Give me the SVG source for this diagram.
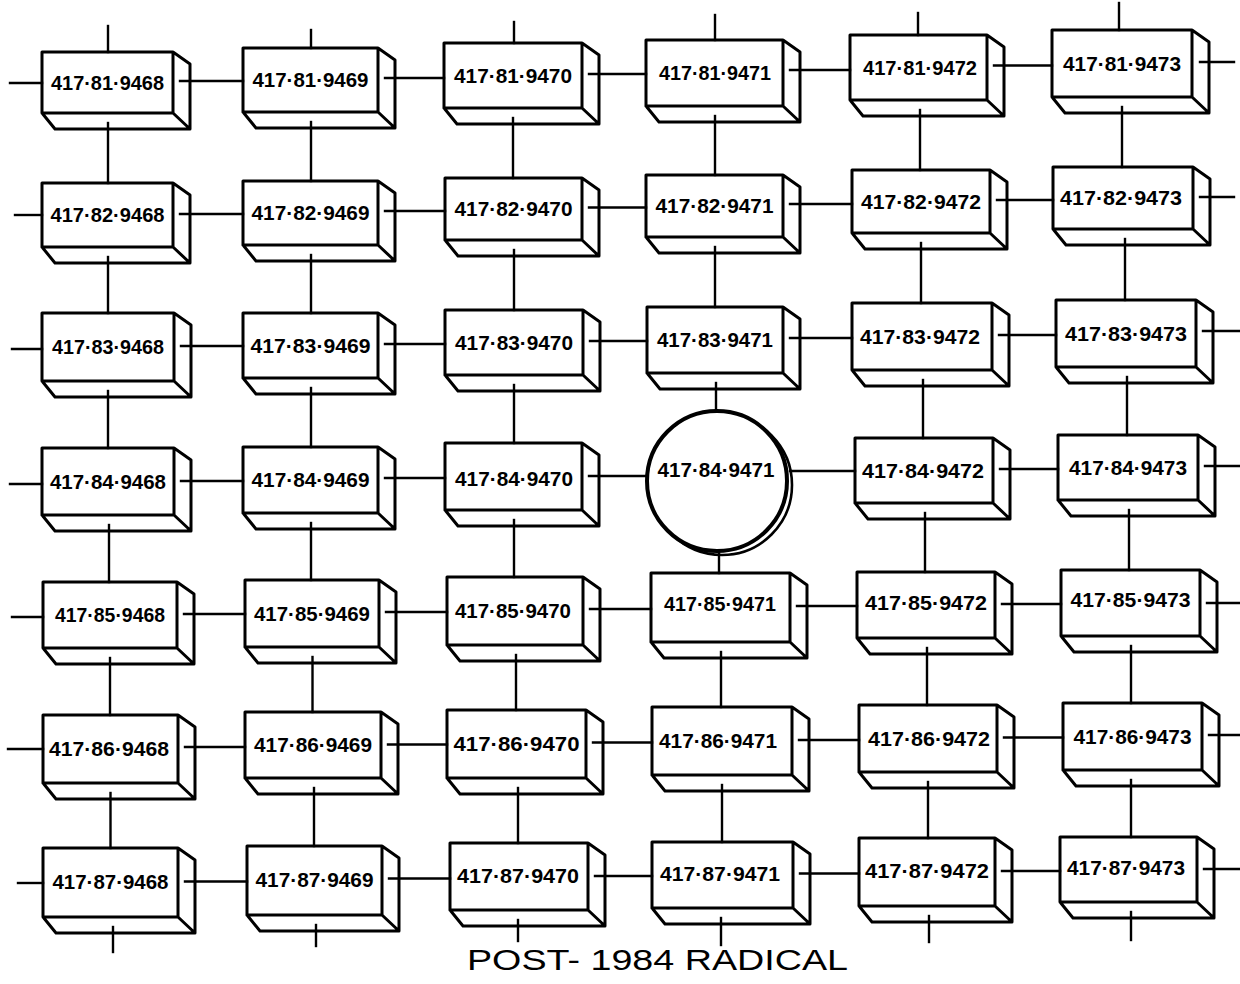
<svg xmlns="http://www.w3.org/2000/svg" width="1240" height="984" viewBox="0 0 1240 984">
<style>
.bx path{fill:none;stroke:#000;stroke-width:3;stroke-linejoin:round;stroke-linecap:round}
.bx text,.lbl{font-family:"Liberation Sans",Arial,sans-serif;font-size:20px;font-weight:bold;fill:#000;text-anchor:middle}
.cn line{stroke:#000;stroke-width:2.4;stroke-linecap:square}
.ttl{font-family:"Liberation Sans",Arial,sans-serif;font-size:30px;fill:#000}
</style>
<rect width="1240" height="984" fill="#fff"/>
<g id="nodes" class="bx">
<!-- Row 1 -->
<g id="n81-9468" transform="translate(42,52)"><path d="M0 0h131v61h-131Zm131 0l17 12v65l-17-16m-131 0l13 16h135"/><text x="65.5" y="37.5" textLength="113" lengthAdjust="spacingAndGlyphs">417·81·9468</text></g>
<g id="n81-9469" transform="translate(243,48)"><path d="M0 0h135v64h-135Zm135 0l17 12v68l-17-16m-135 0l13 16h139"/><text x="67.5" y="39" textLength="116" lengthAdjust="spacingAndGlyphs">417·81·9469</text></g>
<g id="n81-9470" transform="translate(444,43)"><path d="M0 0h138v65h-138Zm138 0l17 12v69l-17-16m-138 0l13 16h142"/><text x="69" y="39.5" textLength="118" lengthAdjust="spacingAndGlyphs">417·81·9470</text></g>
<g id="n81-9471" transform="translate(646,40)"><path d="M0 0h137v66h-137Zm137 0l17 12v70l-17-16m-137 0l13 16h141"/><text x="69" y="40" textLength="112" lengthAdjust="spacingAndGlyphs">417·81·9471</text></g>
<g id="n81-9472" transform="translate(850,35)"><path d="M0 0h137v65h-137Zm137 0l17 12v69l-17-16m-137 0l13 16h141"/><text x="70" y="39.5" textLength="114" lengthAdjust="spacingAndGlyphs">417·81·9472</text></g>
<g id="n81-9473" transform="translate(1052,30)"><path d="M0 0h140v67h-140Zm140 0l17 12v71l-17-16m-140 0l13 16h144"/><text x="70" y="40.5" textLength="118" lengthAdjust="spacingAndGlyphs">417·81·9473</text></g>
<!-- Row 2 -->
<g id="n82-9468" transform="translate(42,183)"><path d="M0 0h131v64h-131Zm131 0l17 12v68l-17-16m-131 0l13 16h135"/><text x="65.5" y="39" textLength="114" lengthAdjust="spacingAndGlyphs">417·82·9468</text></g>
<g id="n82-9469" transform="translate(243,181)"><path d="M0 0h135v64h-135Zm135 0l17 12v68l-17-16m-135 0l13 16h139"/><text x="67.5" y="39" textLength="118" lengthAdjust="spacingAndGlyphs">417·82·9469</text></g>
<g id="n82-9470" transform="translate(445,178)"><path d="M0 0h137v62h-137Zm137 0l17 12v66l-17-16m-137 0l13 16h141"/><text x="68.5" y="38" textLength="118" lengthAdjust="spacingAndGlyphs">417·82·9470</text></g>
<g id="n82-9471" transform="translate(646,175)"><path d="M0 0h137v62h-137Zm137 0l17 12v66l-17-16m-137 0l13 16h141"/><text x="68.5" y="38" textLength="118" lengthAdjust="spacingAndGlyphs">417·82·9471</text></g>
<g id="n82-9472" transform="translate(852,170)"><path d="M0 0h138v63h-138Zm138 0l17 12v67l-17-16m-138 0l13 16h142"/><text x="69" y="38.5" textLength="120" lengthAdjust="spacingAndGlyphs">417·82·9472</text></g>
<g id="n82-9473" transform="translate(1053,167)"><path d="M0 0h140v62h-140Zm140 0l17 12v66l-17-16m-140 0l13 16h144"/><text x="68" y="38" textLength="122" lengthAdjust="spacingAndGlyphs">417·82·9473</text></g>
<!-- Row 3 -->
<g id="n83-9468" transform="translate(42,313)"><path d="M0 0h132v68h-132Zm132 0l17 12v72l-17-16m-132 0l13 16h136"/><text x="66" y="41" textLength="112" lengthAdjust="spacingAndGlyphs">417·83·9468</text></g>
<g id="n83-9469" transform="translate(243,313)"><path d="M0 0h135v65h-135Zm135 0l17 12v69l-17-16m-135 0l13 16h139"/><text x="67.5" y="39.5" textLength="120" lengthAdjust="spacingAndGlyphs">417·83·9469</text></g>
<g id="n83-9470" transform="translate(445,310)"><path d="M0 0h138v65h-138Zm138 0l17 12v69l-17-16m-138 0l13 16h142"/><text x="69" y="39.5" textLength="118" lengthAdjust="spacingAndGlyphs">417·83·9470</text></g>
<g id="n83-9471" transform="translate(647,307)"><path d="M0 0h136v66h-136Zm136 0l17 12v70l-17-16m-136 0l13 16h140"/><text x="68" y="40" textLength="116" lengthAdjust="spacingAndGlyphs">417·83·9471</text></g>
<g id="n83-9472" transform="translate(852,303)"><path d="M0 0h140v67h-140Zm140 0l17 12v71l-17-16m-140 0l13 16h144"/><text x="68" y="40.5" textLength="120" lengthAdjust="spacingAndGlyphs">417·83·9472</text></g>
<g id="n83-9473" transform="translate(1056,300)"><path d="M0 0h140v67h-140Zm140 0l17 12v71l-17-16m-140 0l13 16h144"/><text x="70" y="40.5" textLength="122" lengthAdjust="spacingAndGlyphs">417·83·9473</text></g>
<!-- Row 4 -->
<g id="n84-9468" transform="translate(42,448)"><path d="M0 0h132v67h-132Zm132 0l17 12v71l-17-16m-132 0l13 16h136"/><text x="66" y="40.5" textLength="116" lengthAdjust="spacingAndGlyphs">417·84·9468</text></g>
<g id="n84-9469" transform="translate(243,447)"><path d="M0 0h135v66h-135Zm135 0l17 12v70l-17-16m-135 0l13 16h139"/><text x="67.5" y="40" textLength="118" lengthAdjust="spacingAndGlyphs">417·84·9469</text></g>
<g id="n84-9470" transform="translate(445,443)"><path d="M0 0h137v67h-137Zm137 0l17 12v71l-17-16m-137 0l13 16h141"/><text x="69" y="43" textLength="118" lengthAdjust="spacingAndGlyphs">417·84·9470</text></g>
<g id="n84-9471">
<circle cx="722" cy="485" r="70" fill="none" stroke="#000" stroke-width="2.6"/>
<circle cx="717" cy="481" r="70" fill="#fff" stroke="#000" stroke-width="4"/>
<text class="lbl" x="716" y="477" textLength="117" lengthAdjust="spacingAndGlyphs">417·84·9471</text>
</g>
<g id="n84-9472" transform="translate(855,438)"><path d="M0 0h138v65h-138Zm138 0l17 12v69l-17-16m-138 0l13 16h142"/><text x="68" y="39.5" textLength="122" lengthAdjust="spacingAndGlyphs">417·84·9472</text></g>
<g id="n84-9473" transform="translate(1058,435)"><path d="M0 0h140v65h-140Zm140 0l17 12v69l-17-16m-140 0l13 16h144"/><text x="70" y="39.5" textLength="118" lengthAdjust="spacingAndGlyphs">417·84·9473</text></g>
<!-- Row 5 -->
<g id="n85-9468" transform="translate(43,582)"><path d="M0 0h134v66h-134Zm134 0l17 12v70l-17-16m-134 0l13 16h138"/><text x="67" y="40" textLength="110" lengthAdjust="spacingAndGlyphs">417·85·9468</text></g>
<g id="n85-9469" transform="translate(245,580)"><path d="M0 0h134v67h-134Zm134 0l17 12v71l-17-16m-134 0l13 16h138"/><text x="67" y="40.5" textLength="116" lengthAdjust="spacingAndGlyphs">417·85·9469</text></g>
<g id="n85-9470" transform="translate(447,577)"><path d="M0 0h136v68h-136Zm136 0l17 12v72l-17-16m-136 0l13 16h140"/><text x="66" y="41" textLength="116" lengthAdjust="spacingAndGlyphs">417·85·9470</text></g>
<g id="n85-9471" transform="translate(651,573)"><path d="M0 0h139v69h-139Zm139 0l17 12v73l-17-16m-139 0l13 16h143"/><text x="69" y="38" textLength="112" lengthAdjust="spacingAndGlyphs">417·85·9471</text></g>
<g id="n85-9472" transform="translate(857,572)"><path d="M0 0h138v66h-138Zm138 0l17 12v70l-17-16m-138 0l13 16h142"/><text x="69" y="38" textLength="122" lengthAdjust="spacingAndGlyphs">417·85·9472</text></g>
<g id="n85-9473" transform="translate(1061,570)"><path d="M0 0h139v66h-139Zm139 0l17 12v70l-17-16m-139 0l13 16h143"/><text x="69.5" y="37" textLength="120" lengthAdjust="spacingAndGlyphs">417·85·9473</text></g>
<!-- Row 6 -->
<g id="n86-9468" transform="translate(43,715)"><path d="M0 0h135v68h-135Zm135 0l17 12v72l-17-16m-135 0l13 16h139"/><text x="66" y="41" textLength="120" lengthAdjust="spacingAndGlyphs">417·86·9468</text></g>
<g id="n86-9469" transform="translate(245,712)"><path d="M0 0h136v66h-136Zm136 0l17 12v70l-17-16m-136 0l13 16h140"/><text x="68" y="40" textLength="118" lengthAdjust="spacingAndGlyphs">417·86·9469</text></g>
<g id="n86-9470" transform="translate(447,710)"><path d="M0 0h139v68h-139Zm139 0l17 12v72l-17-16m-139 0l13 16h143"/><text x="69.5" y="41" textLength="126" lengthAdjust="spacingAndGlyphs">417·86·9470</text></g>
<g id="n86-9471" transform="translate(652,707)"><path d="M0 0h140v68h-140Zm140 0l17 12v72l-17-16m-140 0l13 16h144"/><text x="66" y="41" textLength="118" lengthAdjust="spacingAndGlyphs">417·86·9471</text></g>
<g id="n86-9472" transform="translate(859,705)"><path d="M0 0h138v67h-138Zm138 0l17 12v71l-17-16m-138 0l13 16h142"/><text x="70" y="40.5" textLength="122" lengthAdjust="spacingAndGlyphs">417·86·9472</text></g>
<g id="n86-9473" transform="translate(1063,703)"><path d="M0 0h139v67h-139Zm139 0l17 12v71l-17-16m-139 0l13 16h143"/><text x="69.5" y="40.5" textLength="118" lengthAdjust="spacingAndGlyphs">417·86·9473</text></g>
<!-- Row 7 -->
<g id="n87-9468" transform="translate(43,848)"><path d="M0 0h135v69h-135Zm135 0l17 12v73l-17-16m-135 0l13 16h139"/><text x="67.5" y="41" textLength="116" lengthAdjust="spacingAndGlyphs">417·87·9468</text></g>
<g id="n87-9469" transform="translate(247,846)"><path d="M0 0h135v69h-135Zm135 0l17 12v73l-17-16m-135 0l13 16h139"/><text x="67.5" y="41" textLength="118" lengthAdjust="spacingAndGlyphs">417·87·9469</text></g>
<g id="n87-9470" transform="translate(450,843)"><path d="M0 0h138v67h-138Zm138 0l17 12v71l-17-16m-138 0l13 16h142"/><text x="68" y="40" textLength="122" lengthAdjust="spacingAndGlyphs">417·87·9470</text></g>
<g id="n87-9471" transform="translate(652,842)"><path d="M0 0h141v66h-141Zm141 0l17 12v70l-17-16m-141 0l13 16h145"/><text x="68" y="39" textLength="120" lengthAdjust="spacingAndGlyphs">417·87·9471</text></g>
<g id="n87-9472" transform="translate(859,838)"><path d="M0 0h136v68h-136Zm136 0l17 12v72l-17-16m-136 0l13 16h140"/><text x="68" y="40" textLength="124" lengthAdjust="spacingAndGlyphs">417·87·9472</text></g>
<g id="n87-9473" transform="translate(1060,837)"><path d="M0 0h137v65h-137Zm137 0l17 12v69l-17-16m-137 0l13 16h141"/><text x="66" y="38" textLength="118" lengthAdjust="spacingAndGlyphs">417·87·9473</text></g>
</g>
<g id="connectors" class="cn">
<!-- horizontal row 1 -->
<line x1="10" y1="83" x2="42" y2="83"/>
<line x1="180" y1="81" x2="243" y2="81"/>
<line x1="385" y1="78" x2="444" y2="78"/>
<line x1="589" y1="74" x2="646" y2="74"/>
<line x1="790" y1="70" x2="850" y2="70"/>
<line x1="994" y1="65.5" x2="1052" y2="65.5"/>
<line x1="1200" y1="62" x2="1234" y2="62"/>
<!-- row 2 -->
<line x1="15" y1="215" x2="42" y2="215"/>
<line x1="180" y1="214" x2="243" y2="214"/>
<line x1="385" y1="211" x2="445" y2="211"/>
<line x1="589" y1="207.5" x2="646" y2="207.5"/>
<line x1="790" y1="204" x2="852" y2="204"/>
<line x1="997" y1="200" x2="1053" y2="200"/>
<line x1="1200" y1="197" x2="1234" y2="197"/>
<!-- row 3 -->
<line x1="12" y1="349" x2="42" y2="349"/>
<line x1="181" y1="346" x2="243" y2="346"/>
<line x1="385" y1="344" x2="445" y2="344"/>
<line x1="590" y1="341" x2="647" y2="341"/>
<line x1="790" y1="338" x2="852" y2="338"/>
<line x1="999" y1="335" x2="1056" y2="335"/>
<line x1="1203" y1="331" x2="1240" y2="331"/>
<!-- row 4 -->
<line x1="10" y1="484" x2="42" y2="484"/>
<line x1="181" y1="481" x2="243" y2="481"/>
<line x1="385" y1="478" x2="445" y2="478"/>
<line x1="589" y1="476" x2="647" y2="476"/>
<line x1="790" y1="471" x2="855" y2="471"/>
<line x1="1000" y1="469" x2="1058" y2="469"/>
<line x1="1205" y1="466" x2="1240" y2="466"/>
<!-- row 5 -->
<line x1="12" y1="617" x2="43" y2="617"/>
<line x1="184" y1="614" x2="245" y2="614"/>
<line x1="386" y1="612" x2="447" y2="612"/>
<line x1="590" y1="609" x2="651" y2="609"/>
<line x1="797" y1="606" x2="857" y2="606"/>
<line x1="1002" y1="604" x2="1061" y2="604"/>
<line x1="1207" y1="603" x2="1240" y2="603"/>
<!-- row 6 -->
<line x1="8" y1="749" x2="43" y2="749"/>
<line x1="185" y1="747" x2="245" y2="747"/>
<line x1="388" y1="744.5" x2="447" y2="744.5"/>
<line x1="593" y1="742.5" x2="652" y2="742.5"/>
<line x1="799" y1="740" x2="859" y2="740"/>
<line x1="1004" y1="737.5" x2="1063" y2="737.5"/>
<line x1="1209" y1="735" x2="1240" y2="735"/>
<!-- row 7 -->
<line x1="18" y1="883" x2="43" y2="883"/>
<line x1="185" y1="881.5" x2="247" y2="881.5"/>
<line x1="389" y1="878.5" x2="450" y2="878.5"/>
<line x1="595" y1="876" x2="652" y2="876"/>
<line x1="800" y1="873.5" x2="859" y2="873.5"/>
<line x1="1002" y1="871" x2="1060" y2="871"/>
<line x1="1204" y1="869" x2="1240" y2="869"/>
<!-- vertical col 1 -->
<line x1="108" y1="26" x2="108" y2="52"/>
<line x1="108" y1="123" x2="108" y2="183"/>
<line x1="108" y1="257" x2="108" y2="313"/>
<line x1="108" y1="391" x2="108" y2="448"/>
<line x1="109" y1="525" x2="109" y2="582"/>
<line x1="110" y1="658" x2="110" y2="715"/>
<line x1="110.5" y1="793" x2="110.5" y2="848"/>
<line x1="113" y1="927" x2="113" y2="952"/>
<!-- col 2 -->
<line x1="311" y1="30" x2="311" y2="48"/>
<line x1="311" y1="122" x2="311" y2="181"/>
<line x1="311" y1="255" x2="311" y2="313"/>
<line x1="311" y1="388" x2="311" y2="447"/>
<line x1="311" y1="523" x2="311" y2="580"/>
<line x1="312.5" y1="657" x2="312.5" y2="712"/>
<line x1="314" y1="788" x2="314" y2="846"/>
<line x1="316" y1="925" x2="316" y2="946"/>
<!-- col 3 -->
<line x1="514" y1="22" x2="514" y2="43"/>
<line x1="513" y1="118" x2="513" y2="178"/>
<line x1="514" y1="250" x2="514" y2="310"/>
<line x1="514" y1="385" x2="514" y2="443"/>
<line x1="514" y1="520" x2="514" y2="577"/>
<line x1="516" y1="655" x2="516" y2="710"/>
<line x1="518" y1="788" x2="518" y2="843"/>
<line x1="518" y1="920" x2="518" y2="941"/>
<!-- col 4 -->
<line x1="715" y1="15" x2="715" y2="40"/>
<line x1="715" y1="116" x2="715" y2="175"/>
<line x1="715" y1="247" x2="715" y2="307"/>
<line x1="716" y1="383" x2="716" y2="411"/>
<line x1="719" y1="553" x2="719" y2="573"/>
<line x1="721" y1="652" x2="721" y2="707"/>
<line x1="722" y1="785" x2="722" y2="842"/>
<line x1="721" y1="918" x2="721" y2="945"/>
<!-- col 5 -->
<line x1="918" y1="13" x2="918" y2="35"/>
<line x1="920" y1="110" x2="920" y2="170"/>
<line x1="921" y1="243" x2="921" y2="303"/>
<line x1="923" y1="380" x2="923" y2="438"/>
<line x1="925" y1="513" x2="925" y2="572"/>
<line x1="927" y1="648" x2="927" y2="705"/>
<line x1="928" y1="782" x2="928" y2="838"/>
<line x1="929" y1="916" x2="929" y2="942"/>
<!-- col 6 -->
<line x1="1119" y1="3" x2="1119" y2="30"/>
<line x1="1122" y1="107" x2="1122" y2="167"/>
<line x1="1125" y1="239" x2="1125" y2="300"/>
<line x1="1127" y1="377" x2="1127" y2="435"/>
<line x1="1129" y1="510" x2="1129" y2="570"/>
<line x1="1131" y1="646" x2="1131" y2="703"/>
<line x1="1131" y1="780" x2="1131" y2="837"/>
<line x1="1131" y1="912" x2="1131" y2="940"/>
</g>
<text class="ttl" x="467" y="970" textLength="381" lengthAdjust="spacingAndGlyphs">POST- 1984 RADICAL</text>
</svg>
